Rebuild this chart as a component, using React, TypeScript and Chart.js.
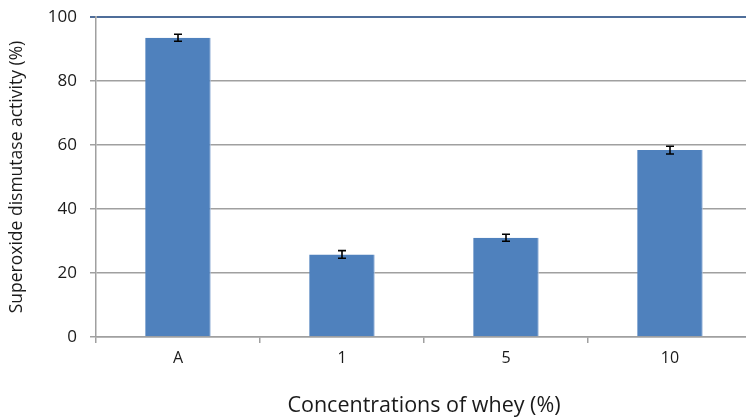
import React, { useEffect, useRef } from "react";
import { Chart, registerables } from "chart.js";

Chart.register(...registerables);

const categories = ["A", "1", "5", "10"];
const activity = [93.5, 25.8, 31.0, 58.4];
const errors = [1.1, 1.2, 1.1, 1.2];
const yTicks = [0, 20, 40, 60, 80, 100];

const FONT = "'Open Sans', 'Noto Sans', sans-serif";

const errorBarPlugin = {
  id: "errorBars",
  afterDatasetsDraw(chart: any) {
    const ctx = chart.ctx;
    const meta = chart.getDatasetMeta(0);
    const yScale = chart.scales.y;
    ctx.save();
    ctx.strokeStyle = "#000";
    ctx.lineWidth = 1.6;
    meta.data.forEach((bar: any, i: number) => {
      const v = activity[i];
      const e = errors[i];
      const x = bar.x;
      const yTop = yScale.getPixelForValue(v + e);
      const yBot = yScale.getPixelForValue(v - e);
      ctx.beginPath();
      ctx.moveTo(x, yTop);
      ctx.lineTo(x, yBot);
      ctx.moveTo(x - 4, yTop);
      ctx.lineTo(x + 4, yTop);
      ctx.moveTo(x - 4, yBot);
      ctx.lineTo(x + 4, yBot);
      ctx.stroke();
    });
    ctx.restore();
  },
};

export default function App() {
  const ref = useRef<HTMLCanvasElement>(null);
  useEffect(() => {
    if (!ref.current) return;
    const chart = new Chart(ref.current, {
      type: "bar",
      data: {
        labels: categories,
        datasets: [
          {
            data: activity,
            backgroundColor: "#4F81BD",
            borderColor: "#A7BFDE",
            borderWidth: { top: 0, left: 0, bottom: 0, right: 1 } as any,
            barPercentage: 0.4,
            categoryPercentage: 1.0,
          },
        ],
      },
      options: {
        animation: false,
        responsive: false,
        maintainAspectRatio: false,
        layout: { padding: { left: 0, right: 8, top: 17, bottom: 0 } },
        plugins: { legend: { display: false }, tooltip: { enabled: false } },
        scales: {
          x: {
            offset: true,
            grid: {
              offset: true,
              drawOnChartArea: false,
              drawTicks: true,
              tickLength: 6,
              color: "#A0A0A0",
              lineWidth: 1.5,
            },
            border: { color: "#A0A0A0", width: 1.5 },
            ticks: {
              color: "#1a1a1a",
              font: { family: FONT, size: 16 },
              padding: 6,
            },
            title: {
              display: true,
              text: "Concentrations of whey (%)",
              color: "#1a1a1a",
              font: { family: FONT, size: 21.5 },
              padding: { top: 19, bottom: 0 },
            },
            afterFit(scale: any) {
              scale.height = 82;
              scale.paddingLeft = 0;
              scale.paddingRight = 0;
            },
          } as any,
          y: {
            min: 0,
            max: 100,
            afterBuildTicks(scale: any) {
              scale.ticks = yTicks.map((v) => ({ value: v }));
            },
            grid: {
              color: (c: any) => (c.tick && c.tick.value === 100 ? "#4F6E9A" : "#A0A0A0"),
              lineWidth: (c: any) => (c.tick && c.tick.value === 100 ? 2 : 1.5),
              drawTicks: true,
              tickLength: 6,
            },
            border: { color: "#A0A0A0", width: 1.5 },
            ticks: {
              color: "#1a1a1a",
              font: { family: FONT, size: 17 },
              padding: 13,
            },
            title: {
              display: true,
              text: "Superoxide dismutase activity (%)",
              color: "#1a1a1a",
              font: { family: FONT, size: 17.5 },
              padding: { top: 7, bottom: 0 },
            },
            afterFit(scale: any) {
              scale.width = 96;
              scale.paddingTop = 0;
              scale.paddingBottom = 0;
            },
          } as any,
        },
      },
      plugins: [errorBarPlugin],
    });
    return () => chart.destroy();
  }, []);
  return (
    <div
      style={{
        position: "fixed",
        left: 0,
        top: 0,
        width: 746,
        height: 419,
        overflow: "hidden",
        background: "#fff",
      }}
    >
      <canvas ref={ref} width={760} height={419} style={{ width: 760, height: 419 }} />
    </div>
  );
}
